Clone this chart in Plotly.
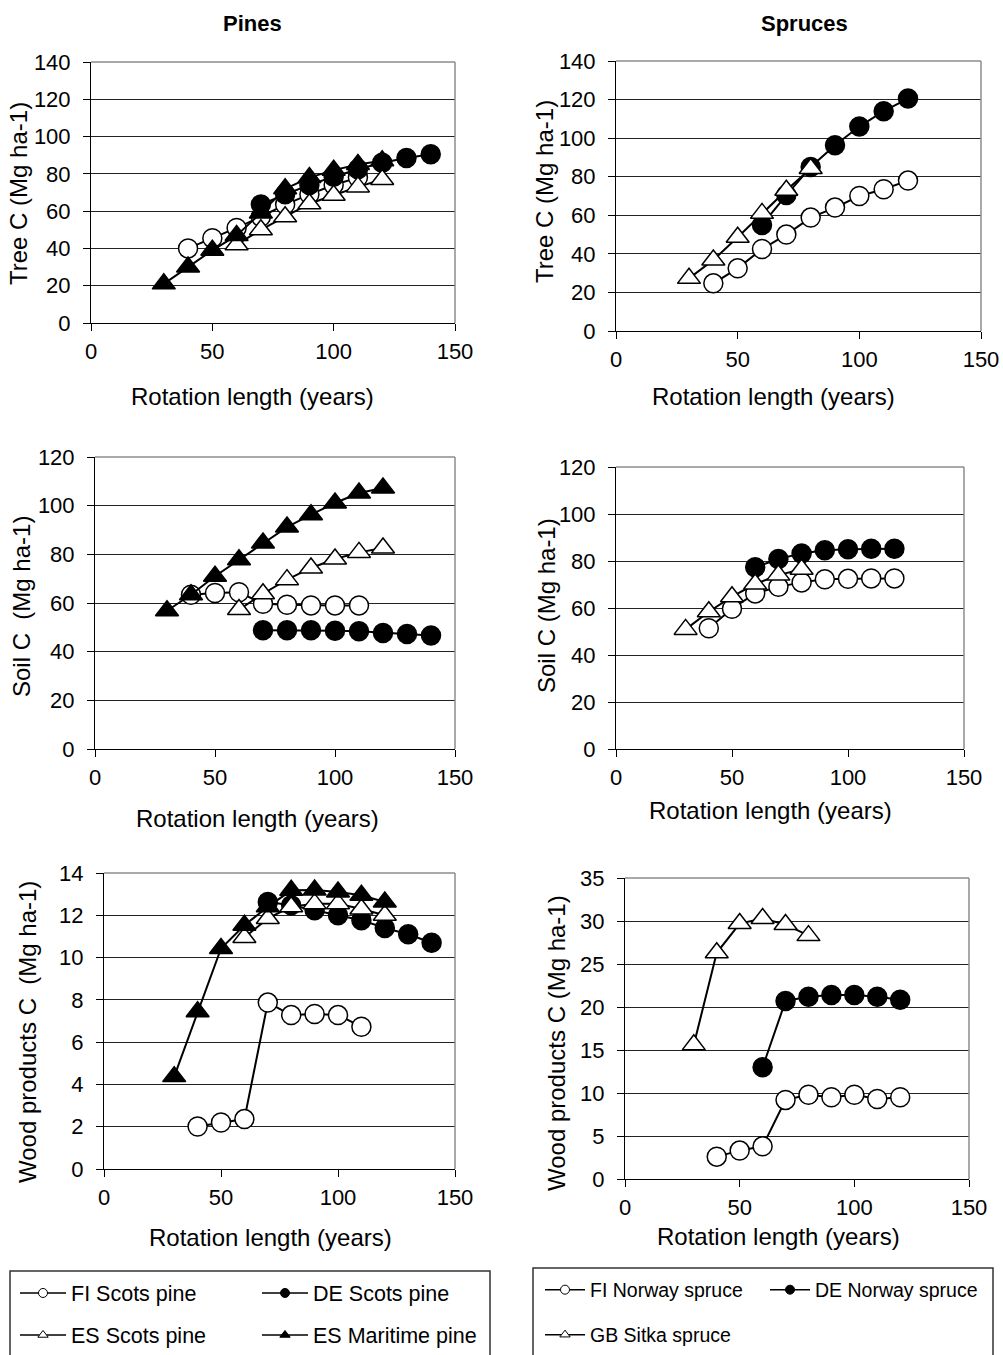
import plotly.graph_objects as go

W, H = 1003, 1355
FONT = "Arial, 'Liberation Sans', sans-serif"

# ---------------- data ----------------
yrs_pine_fi = [40, 50, 60, 70, 80, 90, 100, 110]
yrs_pine_de = [70, 80, 90, 100, 110, 120, 130, 140]
yrs_pine_es = [60, 70, 80, 90, 100, 110, 120]
yrs_pine_esm = [30, 40, 50, 60, 70, 80, 90, 100, 110, 120]
yrs_spr_fi = [40, 50, 60, 70, 80, 90, 100, 110, 120]
yrs_spr_de = [60, 70, 80, 90, 100, 110, 120]
yrs_spr_gb = [30, 40, 50, 60, 70, 80]

# Tree C
tree_fi_scots = [40, 45.5, 51, 57, 63.5, 69, 74, 78]
tree_de_scots = [63.5, 69, 74, 78.5, 82.5, 86, 88.5, 90.5]
tree_es_scots = [42, 50, 57, 64, 68.5, 73, 77]
tree_es_maritime = [21, 30, 39, 47, 59, 72, 78, 82, 85, 87]
tree_fi_norway = [24.7, 32.5, 42.5, 50, 58.8, 64, 70, 73.5, 78]
tree_de_norway = [55, 70.5, 85, 96.3, 106, 114, 120.5]
tree_gb_sitka = [27.3, 36.8, 48.6, 61, 73, 84.3]

# Soil C
soil_fi_scots = [63.4, 64.1, 64.4, 59.7, 59.3, 59, 59, 59]
soil_de_scots = [48.8, 48.8, 48.8, 48.6, 48.4, 47.7, 47.3, 46.6]
soil_es_scots = [57.3, 63.8, 69.6, 74.4, 78.1, 80.8, 82.6]
soil_es_maritime = [56.8, 63.4, 71, 77.8, 84.7, 91.2, 96.3, 101.1, 105.2, 107.3]
soil_fi_norway = [51.4, 59.7, 66.2, 69, 70.9, 72.2, 72.4, 72.6, 72.6]
soil_de_norway = [77.3, 80.9, 83.2, 84.6, 85, 85.2, 85.2]
soil_gb_sitka = [50.9, 58.4, 64.8, 70.2, 74, 76.5]

# Wood products C
wood_fi_scots = [2.01, 2.2, 2.36, 7.87, 7.28, 7.33, 7.28, 6.73]
wood_de_scots = [12.63, 12.47, 12.24, 12.0, 11.77, 11.4, 11.1, 10.7]
wood_es_scots = [10.95, 11.85, 12.4, 12.55, 12.55, 12.3, 12.0]
wood_es_maritime = [4.37, 7.44, 10.43, 11.53, 12.4, 13.18, 13.2, 13.1, 12.95, 12.63]
wood_fi_norway = [2.6, 3.3, 3.8, 9.2, 9.8, 9.5, 9.8, 9.3, 9.5]
wood_de_norway = [13.0, 20.7, 21.2, 21.4, 21.4, 21.2, 20.85]
wood_gb_sitka = [15.6, 26.3, 29.7, 30.3, 29.6, 28.3]

pine_names = ["FI Scots pine", "DE Scots pine", "ES Scots pine", "ES Maritime pine"]
spruce_names = ["FI Norway spruce", "DE Norway spruce", "GB Sitka spruce"]

x_ticks = [0, 50, 100, 150]

# ---------------- styles ----------------
OPEN_C = dict(symbol="circle", color="white", line=dict(color="black", width=1.5))
FILL_C = dict(symbol="circle", color="black", line=dict(color="black", width=1.5))
OPEN_T = dict(symbol="triangle-up", color="white", line=dict(color="black", width=1.5))
FILL_T = dict(symbol="triangle-up", color="black", line=dict(color="black", width=1.5))

pine_styles = [OPEN_C, FILL_C, OPEN_T, FILL_T]
spruce_styles = [OPEN_C, FILL_C, OPEN_T]

# panel geometry in pixels: (left, right, top, bottom)
panels = {
    1: (91, 455, 62, 323),
    2: (616, 981, 61, 331),
    3: (95, 455, 457, 749),
    4: (616, 964, 467, 749),
    5: (104, 455, 873, 1169),
    6: (625, 969, 878, 1179),
}
yranges = {1: (0, 140, 20), 2: (0, 140, 20), 3: (0, 120, 20), 4: (0, 120, 20),
           5: (0, 14, 2), 6: (0, 35, 5)}

fig = go.Figure()

def add_series(panel, xs, ys, style, size):
    ax = "" if panel == 1 else str(panel)
    fig.add_trace(go.Scatter(
        x=xs, y=ys, mode="lines+markers",
        line=dict(color="black", width=2),
        marker=dict(size=size, **style),
        xaxis="x" + ax, yaxis="y" + ax, showlegend=False, cliponaxis=False))

pine_sets = [
    (1, [tree_fi_scots, tree_de_scots, tree_es_scots, tree_es_maritime]),
    (3, [soil_fi_scots, soil_de_scots, soil_es_scots, soil_es_maritime]),
    (5, [wood_fi_scots, wood_de_scots, wood_es_scots, wood_es_maritime]),
]
pine_years = [yrs_pine_fi, yrs_pine_de, yrs_pine_es, yrs_pine_esm]
for panel, series in pine_sets:
    for xs, ys, st in zip(pine_years, series, pine_styles):
        add_series(panel, xs, ys, st, 19 if st["symbol"] == "circle" else 20)

spruce_sets = [
    (2, [tree_fi_norway, tree_de_norway, tree_gb_sitka]),
    (4, [soil_fi_norway, soil_de_norway, soil_gb_sitka]),
    (6, [wood_fi_norway, wood_de_norway, wood_gb_sitka]),
]
spruce_years = [yrs_spr_fi, yrs_spr_de, yrs_spr_gb]
for panel, series in spruce_sets:
    for xs, ys, st in zip(spruce_years, series, spruce_styles):
        add_series(panel, xs, ys, st, 19 if st["symbol"] == "circle" else 20)

# legend entries (one legend per entry for precise placement)
legend_pos = [  # (x_px, y_px) of entry
    (15, 1293), (257, 1293), (15, 1335), (257, 1335),
    (540, 1290), (765, 1290), (540, 1335),
]
legend_names = pine_names + spruce_names
legend_styles = pine_styles + spruce_styles
for i, (nm, st) in enumerate(zip(legend_names, legend_styles)):
    lg = "legend" if i == 0 else "legend%d" % (i + 1)
    fig.add_trace(go.Scatter(
        x=[None], y=[None], mode="lines+markers", name=nm,
        line=dict(color="black", width=1.5),
        marker=dict(size=9, **{k: v for k, v in st.items() if k != "line"},
                    line=dict(color="black", width=1)),
        legend=lg, showlegend=True))

layout = dict(
    width=W, height=H, margin=dict(l=0, r=0, t=0, b=0, autoexpand=False),
    paper_bgcolor="white", plot_bgcolor="white",
    font=dict(family=FONT, size=22, color="black"),
)

for p, (l, r, t, b) in panels.items():
    suffix = "" if p == 1 else str(p)
    y0, y1, dt = yranges[p]
    layout["xaxis" + suffix] = dict(
        domain=[l / W, r / W], range=[0, 150], tickvals=x_ticks,
        showgrid=False, zeroline=False, showline=True, linecolor="black", linewidth=1,
        ticks="outside", ticklen=7, tickcolor="black", tickwidth=1,
        tickfont=dict(size=22), ticklabelstandoff=2,
        anchor="y" + suffix, fixedrange=True, automargin=False)
    layout["yaxis" + suffix] = dict(
        domain=[1 - b / H, 1 - t / H], range=[y0, y1], dtick=dt, tick0=0,
        showgrid=True, gridcolor="#222", gridwidth=1, zeroline=False,
        showline=True, linecolor="black", linewidth=1,
        ticks="outside", ticklen=7, tickcolor="black", tickwidth=1,
        tickfont=dict(size=22), ticklabelstandoff=8,
        anchor="x" + suffix, fixedrange=True, automargin=False)

for i, (px, py) in enumerate(legend_pos):
    key = "legend" if i == 0 else "legend%d" % (i + 1)
    iw = 46 if i < 4 else 40
    fs = 21.5 if i < 4 else 19.5
    layout[key] = dict(
        x=px / W, y=1 - py / H, xanchor="left", yanchor="middle",
        orientation="h", bgcolor="rgba(0,0,0,0)", borderwidth=0,
        font=dict(size=fs, family=FONT), itemwidth=iw,
        tracegroupgap=0)

fig.update_layout(**layout)

# plot-area frame (top / right in grey)
shapes = []
for p, (l, r, t, b) in panels.items():
    suffix = "" if p == 1 else str(p)
    shapes.append(dict(type="line", xref="x%s domain" % suffix, yref="y%s domain" % suffix,
                       x0=0, x1=1, y0=1, y1=1, line=dict(color="#8c8c8c", width=1.5), layer="above"))
    shapes.append(dict(type="line", xref="x%s domain" % suffix, yref="y%s domain" % suffix,
                       x0=1, x1=1, y0=0, y1=1, line=dict(color="#8c8c8c", width=1.5), layer="above"))
# legend boxes
for (x0, x1, y0) in [(10, 490, 1271), (533, 993, 1268)]:
    shapes.append(dict(type="rect", xref="paper", yref="paper",
                       x0=x0 / W, x1=x1 / W, y0=1 - y0 / H, y1=-0.05,
                       line=dict(color="#333", width=1.5), fillcolor="rgba(0,0,0,0)"))
fig.update_layout(shapes=shapes)

# texts
annots = []
def txt(s, x, y, size=24, angle=0, bold=False):
    annots.append(dict(text="<b>%s</b>" % s if bold else s, x=x / W, y=1 - y / H,
                       xref="paper", yref="paper", showarrow=False, textangle=angle,
                       xanchor="center", yanchor="middle",
                       font=dict(size=size, family=FONT, color="black")))

txt("Pines", 252, 24, size=22, bold=True)
txt("Spruces", 804, 24, size=22, bold=True)
txt("Rotation length (years)", 252, 396)
txt("Rotation length (years)", 773, 396)
txt("Rotation length (years)", 257, 818)
txt("Rotation length (years)", 770, 810)
txt("Rotation length (years)", 270, 1237)
txt("Rotation length (years)", 778, 1236)
txt("Tree C (Mg ha-1)", 18, 194, angle=-90)
txt("Tree C (Mg ha-1)", 545, 192, angle=-90)
txt("Soil C  (Mg ha-1)", 22, 607, angle=-90)
txt("Soil C (Mg ha-1)", 547, 606, angle=-90)
txt("Wood products C  (Mg ha-1)", 27, 1032, angle=-90)
txt("Wood products C (Mg ha-1)", 556, 1043, angle=-90)
fig.update_layout(annotations=annots)

fig.write_html("out.html")
